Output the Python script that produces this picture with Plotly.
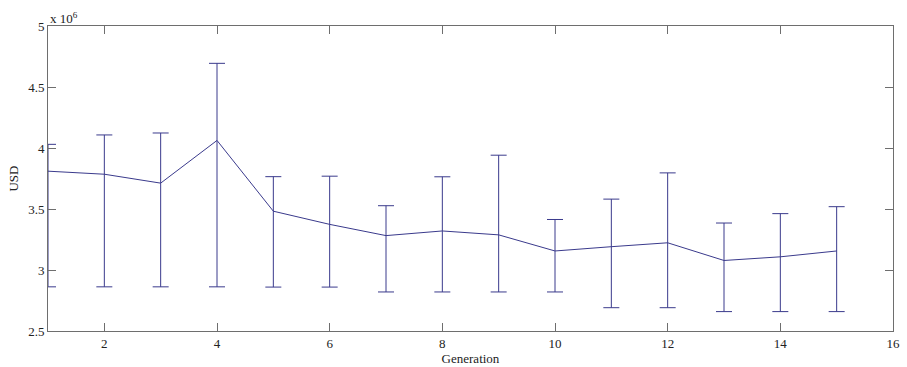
import plotly.graph_objects as go

generation = list(range(1, 16))
usd_mean = [3.81e6, 3.785e6, 3.712e6, 4.062e6, 3.482e6, 3.374e6, 3.282e6, 3.320e6,
            3.288e6, 3.156e6, 3.191e6, 3.223e6, 3.078e6, 3.108e6, 3.156e6]
usd_upper = [4.03e6, 4.107e6, 4.123e6, 4.694e6, 3.765e6, 3.769e6, 3.527e6, 3.764e6,
             3.941e6, 3.414e6, 3.581e6, 3.796e6, 3.385e6, 3.462e6, 3.519e6]
usd_lower = [2.862e6, 2.862e6, 2.862e6, 2.862e6, 2.860e6, 2.860e6, 2.820e6, 2.820e6,
             2.820e6, 2.820e6, 2.691e6, 2.691e6, 2.659e6, 2.659e6, 2.659e6]

err_plus = [u - m for u, m in zip(usd_upper, usd_mean)]
err_minus = [m - l for m, l in zip(usd_mean, usd_lower)]

color = "#3a3a8c"
axis_color = "#6e6e6e"
font = dict(family="Liberation Serif", size=13, color="#222222")

fig = go.Figure()
fig.add_trace(go.Scatter(
    x=generation, y=usd_mean, mode="lines",
    line=dict(color=color, width=1),
    error_y=dict(type="data", symmetric=False, array=err_plus, arrayminus=err_minus,
                 color=color, thickness=1, width=8),
    showlegend=False,
))

fig.update_layout(
    width=907, height=367,
    margin=dict(l=48, r=7, t=26, b=31),
    paper_bgcolor="white", plot_bgcolor="white",
    font=font,
    xaxis=dict(
        range=[1, 16], tick0=0, dtick=2, showgrid=False, zeroline=False,
        showline=True, linecolor=axis_color, linewidth=1, mirror="ticks",
        ticks="inside", ticklen=8, tickcolor=axis_color, tickfont=font,
        title=dict(text="Generation", standoff=0, font=font),
    ),
    yaxis=dict(
        range=[2.5e6, 5e6], tickvals=[2.5e6, 3e6, 3.5e6, 4e6, 4.5e6, 5e6],
        ticktext=["2.5", "3", "3.5", "4", "4.5", "5"],
        showgrid=False, zeroline=False,
        showline=True, linecolor=axis_color, linewidth=1, mirror="ticks",
        ticks="inside", ticklen=8, tickcolor=axis_color, tickfont=font,
        title=dict(text="USD", standoff=6, font=font),
    ),
    annotations=[dict(
        text="x 10<sup>6</sup>", xref="paper", yref="paper", x=0, y=1,
        xanchor="left", yanchor="bottom", showarrow=False, font=font, yshift=-2,
    )],
)

fig.write_html("out.html")
